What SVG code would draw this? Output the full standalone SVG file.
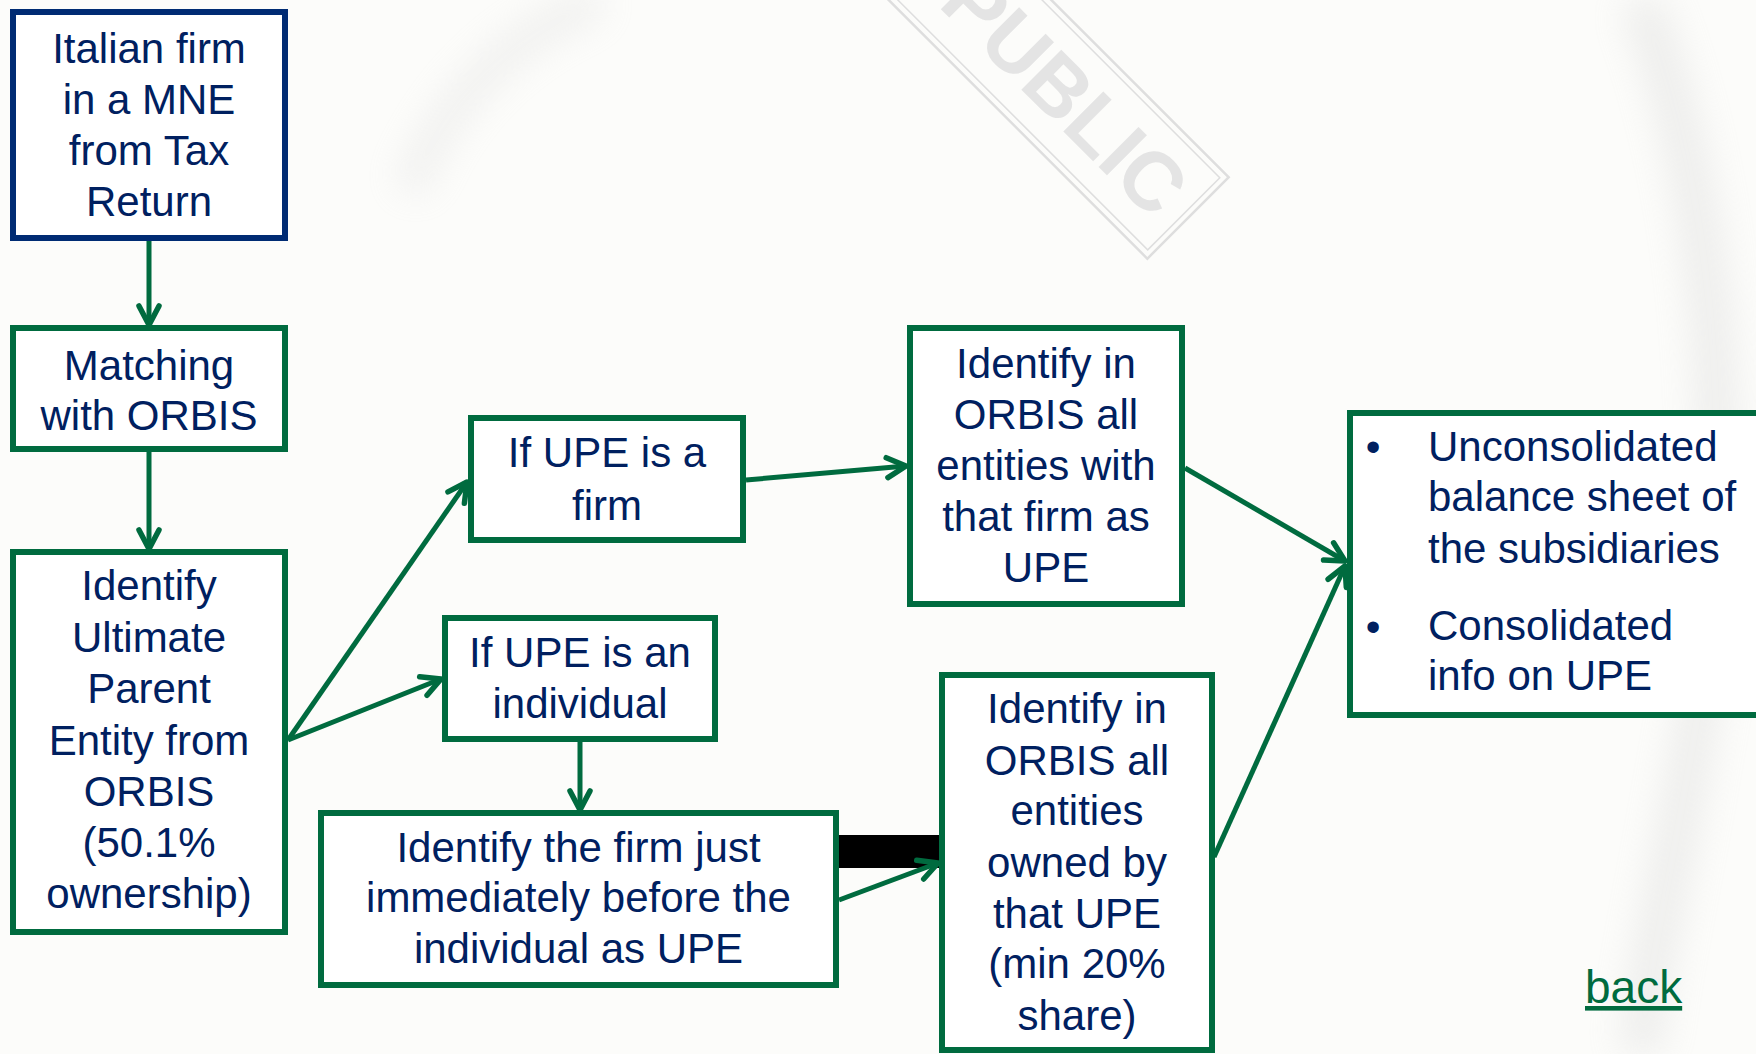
<svg xmlns="http://www.w3.org/2000/svg" width="1756" height="1054" viewBox="0 0 1756 1054">
<defs>
<style>
.bx{fill:#ffffff;stroke:#006b3f;stroke-width:6}
.bxn{fill:#ffffff;stroke:#002b73;stroke-width:6}
.t{font-family:"Liberation Sans",Arial,sans-serif;font-size:42px;fill:#002060;text-anchor:middle}
.tl{font-family:"Liberation Sans",Arial,sans-serif;font-size:42px;fill:#002060;text-anchor:start}
.bul{font-family:"Liberation Sans",Arial,sans-serif;font-size:42px;fill:#002060;text-anchor:middle}
.c{fill:none;stroke:#006b3f;stroke-width:5;marker-end:url(#ah)}
</style>
<marker id="ah" markerUnits="userSpaceOnUse" markerWidth="30" markerHeight="30" viewBox="-25 -15 30 30" refX="0" refY="0" orient="auto">
<path d="M-19,-10 L0,0 L-19,10" fill="none" stroke="#006b3f" stroke-width="5.5" stroke-linecap="round" stroke-linejoin="round"/>
</marker>
<filter id="blur" x="-50%" y="-50%" width="200%" height="200%"><feGaussianBlur stdDeviation="18"/></filter>
</defs>
<rect x="0" y="0" width="1756" height="1054" fill="#fcfcfa"/>
<g id="background-shading" filter="url(#blur)" opacity="0.35">
<path d="M410,190 C440,110 500,40 600,0" fill="none" stroke="#d8d8d8" stroke-width="30"/>
<path d="M1640,0 C1720,200 1740,500 1690,760 C1670,880 1650,960 1640,1054" fill="none" stroke="#d0d0d0" stroke-width="40"/>
</g>
<g id="watermark" transform="translate(1188,218) rotate(45)">
<rect x="-440" y="-57.5" width="440" height="115" fill="none" stroke="#dedede" stroke-width="2.5"/>
<rect x="-434" y="-51" width="428" height="102" fill="none" stroke="#dedede" stroke-width="1.5"/>
<text x="-328" y="27" font-family="'Liberation Sans',Arial,sans-serif" font-size="82" font-weight="bold" fill="#e4e4e4">PUBLIC</text>
</g>
<g id="connectors">
<line class="c" x1="149" y1="241" x2="149" y2="325"/>
<line class="c" x1="149" y1="452" x2="149" y2="549"/>
<line class="c" x1="288" y1="740" x2="467" y2="482"/>
<line class="c" x1="288" y1="740" x2="441" y2="679"/>
<line class="c" x1="580" y1="742" x2="580" y2="810"/>
<line class="c" x1="746" y1="480" x2="906" y2="466"/>
<line class="c" x1="1185" y1="468" x2="1345" y2="561"/>
<line class="c" x1="1214" y1="857" x2="1345" y2="566"/>
<line x1="839" y1="851.5" x2="939" y2="851.5" stroke="#000000" stroke-width="33"/>
<line class="c" x1="839" y1="900" x2="938" y2="863"/>
</g>
<g id="n1">
<rect class="bxn" x="13" y="12" width="272" height="226"/>
<text class="t" x="149" y="63">Italian firm</text>
<text class="t" x="149" y="114">in a MNE</text>
<text class="t" x="149" y="165">from Tax</text>
<text class="t" x="149" y="216">Return</text>
</g>
<g id="n2">
<rect class="bx" x="13" y="328" width="272" height="121"/>
<text class="t" x="149" y="380">Matching</text>
<text class="t" x="149" y="430">with ORBIS</text>
</g>
<g id="n3">
<rect class="bx" x="13" y="552" width="272" height="380"/>
<text class="t" x="149" y="600">Identify</text>
<text class="t" x="149" y="652">Ultimate</text>
<text class="t" x="149" y="703">Parent</text>
<text class="t" x="149" y="755">Entity from</text>
<text class="t" x="149" y="806">ORBIS</text>
<text class="t" x="149" y="857">(50.1%</text>
<text class="t" x="149" y="908">ownership)</text>
</g>
<g id="n4">
<rect class="bx" x="471" y="418" width="272" height="122"/>
<text class="t" x="607" y="467">If UPE is a</text>
<text class="t" x="607" y="520">firm</text>
</g>
<g id="n5">
<rect class="bx" x="445" y="618" width="270" height="121"/>
<text class="t" x="580" y="667">If UPE is an</text>
<text class="t" x="580" y="718">individual</text>
</g>
<g id="n6">
<rect class="bx" x="321" y="813" width="515" height="172"/>
<text class="t" x="578.5" y="862">Identify the firm just</text>
<text class="t" x="578.5" y="912">immediately before the</text>
<text class="t" x="578.5" y="963">individual as UPE</text>
</g>
<g id="n7">
<rect class="bx" x="910" y="328" width="272" height="276"/>
<text class="t" x="1046" y="378">Identify in</text>
<text class="t" x="1046" y="429">ORBIS all</text>
<text class="t" x="1046" y="480">entities with</text>
<text class="t" x="1046" y="531">that firm as</text>
<text class="t" x="1046" y="582">UPE</text>
</g>
<g id="n8">
<rect class="bx" x="942" y="675" width="270" height="375"/>
<text class="t" x="1077" y="723">Identify in</text>
<text class="t" x="1077" y="775">ORBIS all</text>
<text class="t" x="1077" y="825">entities</text>
<text class="t" x="1077" y="877">owned by</text>
<text class="t" x="1077" y="928">that UPE</text>
<text class="t" x="1077" y="978">(min 20%</text>
<text class="t" x="1077" y="1030">share)</text>
</g>
<g id="n9">
<rect class="bx" x="1350" y="413" width="450" height="302"/>
<text class="bul" x="1373" y="461">•</text>
<text class="tl" x="1428" y="461">Unconsolidated</text>
<text class="tl" x="1428" y="511">balance sheet of</text>
<text class="tl" x="1428" y="563">the subsidiaries</text>
<text class="bul" x="1373" y="641">•</text>
<text class="tl" x="1428" y="640">Consolidated</text>
<text class="tl" x="1428" y="690">info on UPE</text>
</g>
<g id="back-link">
<text x="1585" y="1003" font-family="'Liberation Sans',Arial,sans-serif" font-size="46" fill="#006b3f" text-decoration="underline">back</text>
</g>
</svg>
